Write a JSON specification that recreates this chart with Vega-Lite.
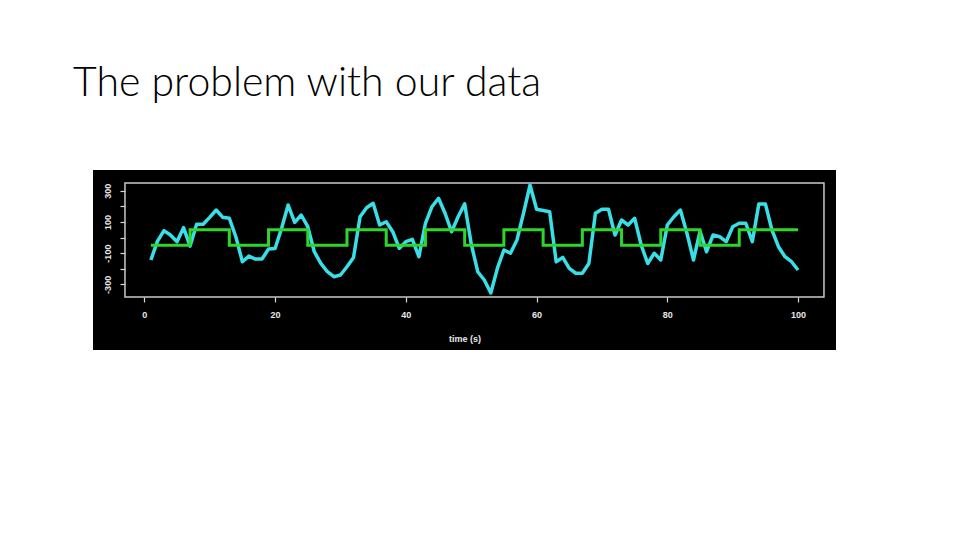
{
  "$schema": "https://vega.github.io/schema/vega-lite/v6.json",
  "autosize": {"type": "none"},
  "padding": {"left": 93, "top": 170, "right": 124, "bottom": 190},
  "width": 743,
  "height": 180,
  "background": "#ffffff",
  "config": {
    "view": {"fill": "#000000", "stroke": null},
    "axis": {"grid": false, "domain": false}
  },
  "title": {
    "text": "The problem with our data",
    "anchor": "start",
    "frame": "group",
    "dx": -20,
    "offset": 33,
    "baseline": "alphabetic",
    "font": "Lato",
    "fontWeight": 300,
    "fontSize": 41,
    "color": "#000000"
  },
  "datasets": {
    "signal": [
      {"t": 1, "v": -144}, {"t": 2, "v": -25}, {"t": 3, "v": 44}, {"t": 4, "v": 16}, {"t": 5, "v": -27},
      {"t": 6, "v": 63}, {"t": 7, "v": -55}, {"t": 8, "v": 85}, {"t": 9, "v": 85}, {"t": 10, "v": 129},
      {"t": 11, "v": 176}, {"t": 12, "v": 129}, {"t": 13, "v": 123}, {"t": 14, "v": 5}, {"t": 15, "v": -155},
      {"t": 16, "v": -119}, {"t": 17, "v": -138}, {"t": 18, "v": -138}, {"t": 19, "v": -74}, {"t": 20, "v": -70},
      {"t": 21, "v": 59}, {"t": 22, "v": 208}, {"t": 23, "v": 97}, {"t": 24, "v": 144}, {"t": 25, "v": 69},
      {"t": 26, "v": -91}, {"t": 27, "v": -166}, {"t": 28, "v": -219}, {"t": 29, "v": -251}, {"t": 30, "v": -240},
      {"t": 31, "v": -187}, {"t": 32, "v": -128}, {"t": 33, "v": 133}, {"t": 34, "v": 190}, {"t": 35, "v": 219},
      {"t": 36, "v": 80}, {"t": 37, "v": 101}, {"t": 38, "v": 37}, {"t": 39, "v": -69}, {"t": 40, "v": -27},
      {"t": 41, "v": -12}, {"t": 42, "v": -123}, {"t": 43, "v": 91}, {"t": 44, "v": 197}, {"t": 45, "v": 251},
      {"t": 46, "v": 155}, {"t": 47, "v": 37}, {"t": 48, "v": 133}, {"t": 49, "v": 215}, {"t": 50, "v": -40},
      {"t": 51, "v": -219}, {"t": 52, "v": -272}, {"t": 53, "v": -355}, {"t": 54, "v": -198}, {"t": 55, "v": -80},
      {"t": 56, "v": -101}, {"t": 57, "v": -16}, {"t": 58, "v": 155}, {"t": 59, "v": 336}, {"t": 60, "v": 181},
      {"t": 61, "v": 173}, {"t": 62, "v": 165}, {"t": 63, "v": -155}, {"t": 64, "v": -127}, {"t": 65, "v": -198},
      {"t": 66, "v": -229}, {"t": 67, "v": -229}, {"t": 68, "v": -166}, {"t": 69, "v": 155}, {"t": 70, "v": 181},
      {"t": 71, "v": 181}, {"t": 72, "v": 16}, {"t": 73, "v": 112}, {"t": 74, "v": 80}, {"t": 75, "v": 123},
      {"t": 76, "v": -48}, {"t": 77, "v": -166}, {"t": 78, "v": -101}, {"t": 79, "v": -144}, {"t": 80, "v": 80},
      {"t": 81, "v": 133}, {"t": 82, "v": 176}, {"t": 83, "v": 27}, {"t": 84, "v": -144}, {"t": 85, "v": 40},
      {"t": 86, "v": -91}, {"t": 87, "v": 16}, {"t": 88, "v": 5}, {"t": 89, "v": -27}, {"t": 90, "v": 69},
      {"t": 91, "v": 91}, {"t": 92, "v": 91}, {"t": 93, "v": -27}, {"t": 94, "v": 215}, {"t": 95, "v": 215},
      {"t": 96, "v": 48}, {"t": 97, "v": -59}, {"t": 98, "v": -123}, {"t": 99, "v": -155}, {"t": 100, "v": -208}
    ],
    "steps": [
      {"t": 1, "v": -50}, {"t": 7, "v": 50}, {"t": 13, "v": -50}, {"t": 19, "v": 50}, {"t": 25, "v": -50},
      {"t": 31, "v": 50}, {"t": 37, "v": -50}, {"t": 43, "v": 50}, {"t": 49, "v": -50}, {"t": 55, "v": 50},
      {"t": 61, "v": -50}, {"t": 67, "v": 50}, {"t": 73, "v": -50}, {"t": 79, "v": 50}, {"t": 85, "v": -50},
      {"t": 91, "v": 50}, {"t": 100, "v": 50}
    ],
    "frame": [{"t": -2.96, "t2": 103.96, "v": -381, "v2": 349}]
  },
  "encoding": {
    "x": {
      "field": "t", "type": "quantitative",
      "scale": {"domain": [-7.85, 105.8], "nice": false, "zero": false},
      "axis": {
        "values": [0, 20, 40, 60, 80, 100],
        "offset": -53,
        "tickColor": "#d8d8d8", "tickSize": 5, "tickWidth": 1.2,
        "labelColor": "#e8e8e8", "labelFont": "Liberation Sans", "labelFontSize": 9, "labelFontWeight": "bold", "labelPadding": 8,
        "title": "time (s)", "titleColor": "#e8e8e8", "titleFont": "Liberation Sans", "titleFontSize": 9, "titleFontWeight": "bold", "titlePadding": 15
      }
    },
    "y": {
      "field": "v", "type": "quantitative",
      "scale": {"domain": [-720, 432], "nice": false, "zero": false},
      "axis": {
        "values": [-300, -200, -100, 0, 100, 200, 300],
        "labelExpr": "datum.value % 200 == 0 ? '' : '' + datum.value",
        "offset": -32,
        "tickColor": "#d8d8d8", "tickSize": 5, "tickWidth": 1.2,
        "labelAngle": -90, "labelAlign": "center", "labelBaseline": "bottom",
        "labelColor": "#e8e8e8", "labelFont": "Liberation Sans", "labelFontSize": 9, "labelFontWeight": "bold", "labelPadding": 8,
        "title": null
      }
    }
  },
  "layer": [
    {
      "data": {"name": "frame"},
      "mark": {"type": "rect", "fill": "transparent", "stroke": "#c9c9c9", "strokeWidth": 1.5},
      "encoding": {
        "x2": {"field": "t2"},
        "y2": {"field": "v2"}
      }
    },
    {
      "data": {"name": "signal"},
      "mark": {"type": "line", "color": "#38dfe6", "strokeWidth": 3.5, "strokeJoin": "round"}
    },
    {
      "data": {"name": "steps"},
      "mark": {"type": "line", "color": "#2fd62a", "strokeWidth": 3, "interpolate": "step-after"}
    }
  ]
}
